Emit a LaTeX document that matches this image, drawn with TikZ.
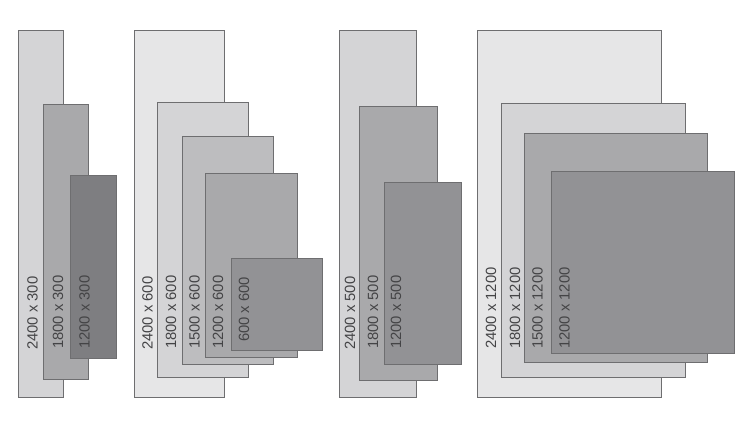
\documentclass[tikz,border=0pt]{standalone}
\usepackage{fontspec}
\setmainfont{Liberation Sans}
\definecolor{tileA}{HTML}{E6E6E7}
\definecolor{tileB}{HTML}{D4D4D6}
\definecolor{tileC}{HTML}{BDBDBF}
\definecolor{tileD}{HTML}{A9A9AB}
\definecolor{tileE}{HTML}{929295}
\definecolor{tileF}{HTML}{7E7E81}
\definecolor{edge}{HTML}{6E6E70}
\definecolor{ink}{HTML}{444446}
\begin{document}
\begin{tikzpicture}[x=1pt,y=-1pt,
  tile/.style={draw=edge,line width=0.8pt},
  every node/.style={inner sep=0pt},
  size/.style={rotate=90,anchor=west,text=ink,font=\fontsize{14.8}{16}\selectfont}]
  \useasboundingbox (0,0) rectangle (750,426);
  % 300 wide
  \draw[tile,fill=tileB] (18,30) rectangle (63,397);
  \draw[tile,fill=tileD] (43,104) rectangle (88,379);
  \draw[tile,fill=tileF] (70,175) rectangle (116,358);
  % 600 wide
  \draw[tile,fill=tileA] (134,30) rectangle (224,397);
  \draw[tile,fill=tileB] (157,102) rectangle (248,377);
  \draw[tile,fill=tileC] (182,136) rectangle (273,364);
  \draw[tile,fill=tileD] (205,173) rectangle (297,357);
  \draw[tile,fill=tileE] (231,258) rectangle (322,350);
  % 500 wide
  \draw[tile,fill=tileB] (339,30) rectangle (416,397);
  \draw[tile,fill=tileD] (359,106) rectangle (437,380);
  \draw[tile,fill=tileE] (384,182) rectangle (461,364);
  % 1200 wide
  \draw[tile,fill=tileA] (477,30) rectangle (661,397);
  \draw[tile,fill=tileB] (501,103) rectangle (685,377);
  \draw[tile,fill=tileD] (524,133) rectangle (707,362);
  \draw[tile,fill=tileE] (551,171) rectangle (734,353);
  % labels
  \node[size] (s2400x300) at (32.5,350) {2400 x 300};
  \node[size] (s1800x300) at (58,349) {1800 x 300};
  \node[size] (s1200x300) at (84.5,349) {1200 x 300};
  \node[size] (s2400x600) at (147.5,350) {2400 x 600};
  \node[size] (s1800x600) at (171,349) {1800 x 600};
  \node[size] (s1500x600) at (194.5,349) {1500 x 600};
  \node[size] (s1200x600) at (218,349) {1200 x 600};
  \node[size] (s600x600) at (244,342) {600 x 600};
  \node[size] (s2400x500) at (350,350) {2400 x 500};
  \node[size] (s1800x500) at (373,349) {1800 x 500};
  \node[size] (s1200x500) at (396,349) {1200 x 500};
  \node[size] (s2400x1200) at (491,349) {2400 x 1200};
  \node[size] (s1800x1200) at (515,349) {1800 x 1200};
  \node[size] (s1500x1200) at (537.5,349) {1500 x 1200};
  \node[size] (s1200x1200) at (564.5,349) {1200 x 1200};
\end{tikzpicture}
\end{document}
